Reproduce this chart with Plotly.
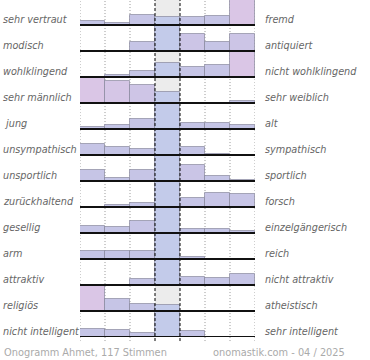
import plotly.graph_objects as go

# ---- data ----
left_labels = ["sehr vertraut", "modisch", "wohlklingend", "sehr männlich", "\u00a0jung",
               "unsympathisch", "unsportlich", "zurückhaltend", "gesellig", "arm",
               "attraktiv", "religiös", "nicht intelligent"]
right_labels = ["fremd", "antiquiert", "nicht wohlklingend", "sehr weiblich", "alt",
                "sympathisch", "sportlich", "forsch", "einzelgängerisch", "reich",
                "nicht attraktiv", "atheistisch", "sehr intelligent"]
# relative bar heights per row (percent of row maximum), 7 scale steps
row_sehr_vertraut = [18, 10, 42, 32, 32, 38, 100]
row_modisch = [0, 0, 35, 100, 68, 35, 67]
row_wohlklingend = [0, 9, 24, 57, 41, 47, 100]
row_maennlich = [100, 87, 71, 45, 0, 0, 9]
row_jung = [9, 15, 39, 100, 25, 25, 17]
row_unsympathisch = [45, 31, 25, 100, 33, 4, 0]
row_unsportlich = [44, 13, 44, 100, 63, 21, 5]
row_zurueckhaltend = [0, 7, 15, 100, 35, 55, 52]
row_gesellig = [28, 23, 49, 100, 17, 16, 8]
row_arm = [33, 31, 33, 100, 7, 0, 0]
row_attraktiv = [0, 0, 23, 100, 33, 27, 43]
row_religioes = [100, 47, 27, 24, 0, 0, 0]
row_nicht_intelligent = [33, 27, 15, 100, 24, 0, 0]
rows = [row_sehr_vertraut, row_modisch, row_wohlklingend, row_maennlich, row_jung,
        row_unsympathisch, row_unsportlich, row_zurueckhaltend, row_gesellig, row_arm,
        row_attraktiv, row_religioes, row_nicht_intelligent]
footer_left = "Onogramm Ahmet, 117 Stimmen"
footer_right = "onomastik.com - 04 / 2025"

# ---- layout constants ----
n = len(rows)
ROW_PX = 26.0
PLOT_H = 337.0
PLOT_W = 175.0
L = 80.0
BAR_MAX = 25.0 / 26.0
baselines = [n - 1 - i for i in range(n)]

side_x, side_y, side_h, side_c = [], [], [], []
mid_x, mid_y, mid_h = [], [], []
for i, vals in enumerate(rows):
    for j, v in enumerate(vals):
        h = v / 100.0 * BAR_MAX
        if j == 3:
            mid_x.append(j + 0.5); mid_y.append(h); mid_h.append(baselines[i])
        else:
            side_x.append(j + 0.5); side_y.append(h); side_h.append(baselines[i]); side_c.append(v)

fig = go.Figure()
line_style = dict(color="rgba(130,130,150,0.65)", width=1)
fig.add_trace(go.Bar(
    x=side_x, y=side_y, base=side_h, width=1,
    marker=dict(color=side_c, cmin=0, cmax=100,
                colorscale=[[0, "#c3c5e6"], [0.55, "#c7c5e6"], [1, "#dac6e6"]],
                line=line_style),
    showlegend=False, hoverinfo="skip"))
fig.add_trace(go.Bar(
    x=mid_x, y=mid_y, base=mid_h, width=1,
    marker=dict(color="#c3cbea", line=line_style),
    showlegend=False, hoverinfo="skip"))

shapes = []
shapes.append(dict(type="rect", xref="x", yref="paper", x0=3, x1=4, y0=0, y1=1,
                   fillcolor="#ececec", line=dict(width=0), layer="below"))
for xv in [0, 1, 2, 5, 6, 7]:
    shapes.append(dict(type="line", xref="x", yref="paper", x0=xv, x1=xv, y0=-0.012, y1=1,
                       line=dict(color="#999999", width=1, dash="1px,2px"), layer="below"))
for xv in [3, 4]:
    shapes.append(dict(type="line", xref="x", yref="paper", x0=xv, x1=xv, y0=-0.012, y1=1,
                       line=dict(color="#000000", width=1, dash="3px,2px"), layer="above"))
for b in baselines:
    shapes.append(dict(type="line", xref="x", yref="y", x0=0, x1=7, y0=b, y1=b,
                       line=dict(color="#111111", width=2), layer="above"))


def px_x(p):
    return (p - L) / PLOT_W


def px_y(p):
    return (PLOT_H - p) / PLOT_H


annotations = []
label_font = dict(family="DejaVu Sans", size=9.7, color="#666666", style="italic")
for i in range(n):
    base_px = PLOT_H - baselines[i] * ROW_PX
    yc = px_y(base_px - 5.5)
    annotations.append(dict(text=left_labels[i], xref="paper", yref="paper", x=px_x(1), y=yc,
                            xanchor="left", yanchor="middle", showarrow=False, font=label_font))
    annotations.append(dict(text=right_labels[i], xref="paper", yref="paper", x=px_x(263), y=yc,
                            xanchor="left", yanchor="middle", showarrow=False, font=label_font))
foot_font = dict(family="DejaVu Sans", size=9.8, color="#aaaaaa")
annotations.append(dict(text=footer_left, xref="paper", yref="paper", x=px_x(2), y=px_y(352),
                        xanchor="left", yanchor="middle", showarrow=False, font=foot_font))
annotations.append(dict(text=footer_right, xref="paper", yref="paper", x=px_x(347), y=px_y(352),
                        xanchor="right", yanchor="middle", showarrow=False, font=foot_font))

fig.update_layout(
    width=370, height=360,
    margin=dict(l=80, r=115, t=0, b=23, pad=0),
    paper_bgcolor="white", plot_bgcolor="rgba(0,0,0,0)",
    barmode="overlay", bargap=0,
    xaxis=dict(range=[0, 7], visible=False, fixedrange=True),
    yaxis=dict(range=[0, PLOT_H / ROW_PX], visible=False, fixedrange=True),
    shapes=shapes, annotations=annotations,
)

fig.write_html("out.html", config={"displayModeBar": False},
               post_script="document.body.style.margin='0';document.body.style.overflow='hidden';")
